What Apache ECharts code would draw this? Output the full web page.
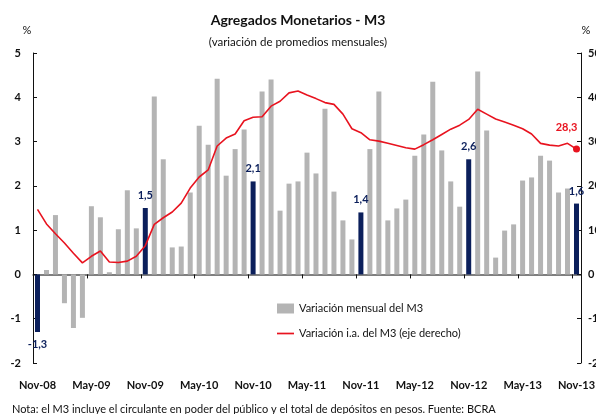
<!DOCTYPE html>
<html>
<head>
<meta charset="utf-8">
<script src="https://cdn.jsdelivr.net/npm/echarts@6/dist/echarts.min.js"></script>
<style>
  html, body { margin: 0; padding: 0; background: #fff; }
  #chart { width: 596px; height: 414px; }
</style>
</head>
<body>
<div id="chart"></div>
<script>
var meses = [
    "Nov-08", "Dic-08", "Ene-09", "Feb-09", "Mar-09", "Abr-09", "May-09", "Jun-09", "Jul-09", "Ago-09", "Sep-09", "Oct-09",
    "Nov-09", "Dic-09", "Ene-10", "Feb-10", "Mar-10", "Abr-10", "May-10", "Jun-10", "Jul-10", "Ago-10", "Sep-10", "Oct-10",
    "Nov-10", "Dic-10", "Ene-11", "Feb-11", "Mar-11", "Abr-11", "May-11", "Jun-11", "Jul-11", "Ago-11", "Sep-11", "Oct-11",
    "Nov-11", "Dic-11", "Ene-12", "Feb-12", "Mar-12", "Abr-12", "May-12", "Jun-12", "Jul-12", "Ago-12", "Sep-12", "Oct-12",
    "Nov-12", "Dic-12", "Ene-13", "Feb-13", "Mar-13", "Abr-13", "May-13", "Jun-13", "Jul-13", "Ago-13", "Sep-13", "Oct-13",
    "Nov-13"
];

// variacion mensual del M3 (%)
var varMensual = [
    -1.3, 0.1, 1.34, -0.65, -1.21, -0.98, 1.54, 1.29, 0.05, 1.02, 1.9, 1.04,
    1.5, 4.02, 2.6, 0.61, 0.63, 1.85, 3.36, 2.93, 4.42, 2.23, 2.83, 3.27,
    2.1, 4.13, 4.4, 1.44, 2.05, 2.1, 2.75, 2.28, 3.74, 1.87, 1.22, 0.79,
    1.4, 2.83, 4.13, 1.22, 1.49, 1.69, 2.68, 3.16, 4.35, 2.8, 2.1, 1.53,
    2.6, 4.58, 3.25, 0.38, 0.99, 1.13, 2.12, 2.19, 2.68, 2.57, 1.85, 1.94,
    1.6
];

// variacion interanual del M3 (%), eje derecho
var varInteranual = [
    14.7, 11.4, 9.2, 7.1, 4.8, 2.6, 4.1, 5.3, 2.8, 2.7, 3.0, 4.1,
    6.5, 11.3, 12.8, 14.1, 16.1, 19.5, 22.0, 23.6, 29.0, 30.8, 31.7, 34.7,
    35.5, 35.6, 38.0, 39.1, 41.0, 41.4, 40.5, 39.7, 38.8, 38.4, 36.2, 32.9,
    32.0, 30.4, 30.1, 29.6, 29.1, 28.6, 28.3, 29.3, 30.4, 31.6, 32.8, 33.7,
    35.0, 37.3, 36.2, 35.1, 34.4, 33.7, 32.9, 31.7, 29.6, 29.2, 29.0, 29.6,
    28.3
];

var gris = "#b4b4b4";
var azul = "#0b1f5b";
var rojo = "#e8131f";
var fuente = "Lato, 'DejaVu Sans', sans-serif";

function coma(v) {
    return String(v).replace(".", ",");
}

chart();

function chart() {
    var myChart = echarts.init(document.getElementById("chart"));
    var ultimo = varInteranual.length - 1;

    var barData = varMensual.map(function (v, i) {
        if (i % 12 !== 0) {
            return v;
        }
        return {
            value: v,
            itemStyle: { color: azul },
            label: {
                show: true,
                position: v < 0 ? "bottom" : "top",
                distance: 7,
                color: azul,
                fontWeight: "bold",
                fontSize: 11,
                fontFamily: fuente,
                formatter: function (p) { return coma(p.value); },
            },
        };
    });

    var lineData = varInteranual.map(function (v, i) {
        if (i !== ultimo) {
            return v;
        }
        return {
            value: v,
            symbolSize: 7,
            label: {
                show: true,
                position: "top",
                offset: [-10, -8],
                color: rojo,
                fontWeight: "bold",
                fontSize: 11,
                fontFamily: fuente,
                formatter: function (p) { return coma(p.value); },
            },
        };
    });

    var option = {
        animation: false,
        backgroundColor: "#ffffff",
        title: [
            {
                text: "Agregados Monetarios - M3",
                subtext: "(variación de promedios mensuales)",
                left: "center",
                top: 8,
                itemGap: 9,
                textStyle: { fontFamily: fuente, fontSize: 14, fontWeight: "bold", color: "#111" },
                subtextStyle: { fontFamily: fuente, fontSize: 11.5, color: "#111" },
            },
            {
                text: "Nota: el M3 incluye el circulante en poder del público y el total de depósitos en pesos. Fuente: BCRA",
                left: 7,
                top: 399,
                textStyle: { fontFamily: fuente, fontSize: 11, fontWeight: "normal", color: "#111" },
            },
        ],
        legend: {
            orient: "vertical",
            left: 272,
            top: 298,
            itemWidth: 17,
            itemHeight: 10,
            itemGap: 14,
            textStyle: { fontFamily: fuente, fontSize: 11, color: "#111" },
            data: [
                { name: "Variación mensual del M3", icon: "rect" },
                { name: "Variación i.a. del M3 (eje derecho)", icon: "path://M0,0 L20,0 L20,2 L0,2 Z", itemStyle: { color: rojo } },
            ],
        },
        grid: {
            left: 33,
            right: 15,
            top: 53,
            bottom: 51,
            containLabel: false,
            outerBoundsMode: "none",
        },
        xAxis: [
            {
                type: "category",
                data: meses,
                boundaryGap: true,
                axisLine: { onZero: true, lineStyle: { color: "#555", width: 1.5 } },
                axisTick: { show: true, interval: 5, length: 4, lineStyle: { color: "#111" } },
                axisLabel: { show: false },
            },
            {
                type: "category",
                data: meses,
                boundaryGap: true,
                position: "bottom",
                axisLine: { show: false, onZero: false },
                axisTick: { show: false },
                axisLabel: {
                    interval: 5,
                    margin: 17,
                    fontFamily: fuente,
                    fontSize: 11,
                    fontWeight: "bold",
                    color: "#111",
                },
            },
        ],
        yAxis: [
            {
                type: "value",
                min: -2,
                max: 5,
                interval: 1,
                name: "%",
                nameGap: 17,
                nameTextStyle: { fontFamily: fuente, fontSize: 11, color: "#111", padding: [0, 12, 0, 0] },
                axisLine: { show: true, lineStyle: { color: "#111" } },
                axisTick: { show: true, inside: true, length: 4, lineStyle: { color: "#111" } },
                axisLabel: { margin: 12, fontFamily: fuente, fontSize: 11, fontWeight: "bold", color: "#111" },
                splitLine: { show: false },
            },
            {
                type: "value",
                min: -20,
                max: 50,
                interval: 10,
                name: "%",
                nameGap: 17,
                nameTextStyle: { fontFamily: fuente, fontSize: 11, color: "#111", padding: [0, 0, 0, 10] },
                axisLine: { show: true, lineStyle: { color: "#111" } },
                axisTick: { show: true, inside: true, length: 4, lineStyle: { color: "#111" } },
                axisLabel: { margin: 7, fontFamily: fuente, fontSize: 11, fontWeight: "bold", color: "#111" },
                splitLine: { show: false },
            },
        ],
        series: [
            {
                name: "Variación mensual del M3",
                type: "bar",
                barWidth: 5,
                itemStyle: { color: gris },
                data: barData,
            },
            {
                name: "Variación i.a. del M3 (eje derecho)",
                type: "line",
                yAxisIndex: 1,
                symbol: "circle",
                symbolSize: 0,
                showSymbol: true,
                showAllSymbol: true,
                lineStyle: { color: rojo, width: 1.6 },
                itemStyle: { color: rojo },
                data: lineData,
            },
        ],
    };

    myChart.setOption(option);
    window.addEventListener("resize", function () {
        myChart.resize();
    });
}
</script>
</body>
</html>
